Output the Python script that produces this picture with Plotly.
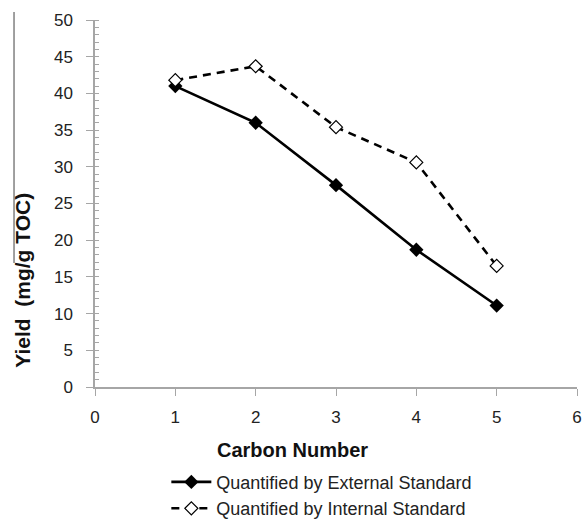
import plotly.graph_objects as go

# Yield of each carbon number, mg per g TOC
carbon_number = [1, 2, 3, 4, 5]
external_std = [41.0, 36.0, 27.5, 18.7, 11.1]
internal_std = [41.8, 43.7, 35.4, 30.6, 16.5]

x_ticks = [0, 1, 2, 3, 4, 5, 6]
y_ticks = [0, 5, 10, 15, 20, 25, 30, 35, 40, 45, 50]

FONT = "Liberation Sans, Arial, sans-serif"
AXIS_GREY = "#a6a6a6"

fig = go.Figure()

fig.add_trace(go.Scatter(
    x=carbon_number, y=external_std, mode="lines+markers",
    name="Quantified by External Standard",
    line=dict(color="black", width=2.6),
    marker=dict(symbol="diamond", size=11, color="black"),
))
fig.add_trace(go.Scatter(
    x=carbon_number, y=internal_std, mode="lines+markers",
    name="Quantified by Internal Standard",
    line=dict(color="black", width=2.6, dash="8px,6px"),
    marker=dict(symbol="diamond", size=10, color="white",
                line=dict(color="black", width=1.2)),
))

fig.update_layout(
    width=582, height=519,
    margin=dict(l=95, r=5, t=20, b=132, autoexpand=False),
    paper_bgcolor="white", plot_bgcolor="white",
    font=dict(family=FONT, size=17, color="#222"),
    showlegend=True,
    legend=dict(
        x=0.148, y=-0.209, xanchor="left", yanchor="top",
        font=dict(size=18, color="#222"),
        bgcolor="rgba(0,0,0,0)", itemwidth=40, tracegroupgap=0,
    ),
    xaxis=dict(
        range=[0, 6], tickvals=x_ticks, ticktext=[str(v) for v in x_ticks],
        showgrid=False, zeroline=False, showline=True, linecolor=AXIS_GREY,
        linewidth=1.5, ticks="outside", ticklen=7, tickcolor=AXIS_GREY,
        tickfont=dict(size=17, color="#222"), ticklabelstandoff=7,
    ),
    yaxis=dict(
        range=[0, 50], tickvals=y_ticks, ticktext=[str(v) for v in y_ticks],
        showgrid=False, zeroline=False, showline=True, linecolor=AXIS_GREY,
        linewidth=1.5, ticks="outside", ticklen=7, tickcolor=AXIS_GREY,
        tickfont=dict(size=17, color="#222"),
        ticklabelstandoff=10,
        minor=dict(dtick=1, ticks="inside", ticklen=4, tickcolor=AXIS_GREY),
    ),
    # inside half of the crossing major ticks
    yaxis2=dict(
        range=[0, 50], overlaying="y", side="left", anchor="x",
        tickvals=y_ticks, showticklabels=False, showgrid=False,
        zeroline=False, showline=False, ticks="inside", ticklen=4,
        tickcolor=AXIS_GREY,
    ),
)

# dummy trace so the secondary axis is rendered
fig.add_trace(go.Scatter(x=[None], y=[None], yaxis="y2", showlegend=False,
                         hoverinfo="skip"))

fig.add_annotation(
    text="<b>Carbon Number</b>", xref="paper", yref="paper",
    x=0.41, y=-0.172, xanchor="center", yanchor="middle", showarrow=False,
    font=dict(family=FONT, size=20, color="#111"),
)
fig.add_annotation(
    text="<b>Yield  (mg/g TOC)</b>", xref="paper", yref="paper",
    x=-0.151, y=0.29, xanchor="center", yanchor="middle", showarrow=False,
    textangle=-90, font=dict(family=FONT, size=21, color="#111"),
)

# thin bracket rule beside the axis title
fig.add_shape(type="line", xref="paper", yref="paper",
              x0=-0.168, x1=-0.168, y0=0.338, y1=1.022,
              line=dict(color="#808080", width=1.5))

fig.write_html("out.html")
